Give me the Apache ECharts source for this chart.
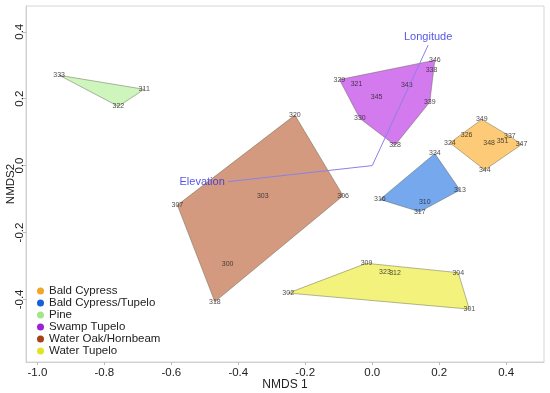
<!DOCTYPE html>
<html><head><meta charset="utf-8">
<script src="https://cdn.jsdelivr.net/npm/echarts@6/dist/echarts.min.js"></script>
<style>html,body{margin:0;padding:0;background:#fff}#c{width:550px;height:393px}</style>
</head><body><div id="c"></div>
<script>
// ---- data ----
const groupNames = ['Bald Cypress','Bald Cypress/Tupelo','Pine','Swamp Tupelo','Water Oak/Hornbeam','Water Tupelo'];
const dotColors  = ['#f2a626','#1560d8','#a3e68a','#9a22d0','#a34318','#e3e326'];
const fillColors = ['#fdca78','#76a8ee','#cdf5bc','#d37aef','#d49a80','#f2f27c'];

const bcNames = ['349','324','326','348','351','337','347','344'];
const bcX = [0.327,0.232,0.282,0.349,0.389,0.411,0.446,0.336];
const bcY = [0.138,0.068,0.091,0.068,0.074,0.088,0.063,-0.013];
const bcHull = ['349','337','347','344','324'];

const bctNames = ['334','313','317','316','310'];
const bctX = [0.187,0.262,0.142,0.023,0.157];
const bctY = [0.036,-0.073,-0.138,-0.101,-0.110];
const bctHull = ['334','313','317','316'];

const pineNames = ['333','311','322'];
const pineX = [-0.935,-0.681,-0.758];
const pineY = [0.270,0.228,0.177];
const pineHull = ['333','311','322'];

const stNames = ['329','321','345','343','346','338','339','330','328'];
const stX = [-0.098,-0.047,0.013,0.103,0.187,0.177,0.172,-0.037,0.068];
const stY = [0.257,0.245,0.204,0.240,0.315,0.285,0.190,0.141,0.061];
const stHull = ['329','346','339','328','330'];

const wohNames = ['320','306','318','307','303','300'];
const wohX = [-0.231,-0.087,-0.470,-0.582,-0.327,-0.432];
const wohY = [0.151,-0.090,-0.407,-0.118,-0.090,-0.294];
const wohHull = ['320','306','318','307'];

const wtNames = ['302','309','304','301','323','312'];
const wtX = [-0.251,-0.017,0.257,0.290,0.038,0.068];
const wtY = [-0.381,-0.292,-0.320,-0.429,-0.319,-0.322];
const wtHull = ['302','309','304','301'];

const vecNames = ['Elevation','Longitude'];
const vecX = [-0.430,0.167];
const vecY = [-0.048,0.360];

const xTicks = [-1.0,-0.8,-0.6,-0.4,-0.2,0.0,0.2,0.4];
const yTicks = [-0.4,-0.2,0.0,0.2,0.4];

// ---- build ----
const groups = [
  {names:bcNames,x:bcX,y:bcY,hull:bcHull},
  {names:bctNames,x:bctX,y:bctY,hull:bctHull},
  {names:pineNames,x:pineX,y:pineY,hull:pineHull},
  {names:stNames,x:stX,y:stY,hull:stHull},
  {names:wohNames,x:wohX,y:wohY,hull:wohHull},
  {names:wtNames,x:wtX,y:wtY,hull:wtHull}
];
const FONT = '"Liberation Sans", Arial, sans-serif';
const series = [];
groups.forEach((g,gi)=>{
  const hullData = g.hull.map(n=>{const i=g.names.indexOf(n);return [g.x[i],g.y[i]];});
  series.push({
    type:'custom', name:groupNames[gi], coordinateSystem:'cartesian2d', silent:true, z:1,
    itemStyle:{color:dotColors[gi]},
    data:hullData, encode:{x:0,y:1},
    renderItem:(params,api)=>{
      if(params.dataIndex!==0) return null;
      const pts = hullData.map(p=>api.coord(p));
      return {type:'polygon', shape:{points:pts},
        style:{fill:fillColors[gi], stroke:'rgba(90,90,70,0.55)', lineWidth:0.8}};
    }
  });
});
groups.forEach((g,gi)=>{
  series.push({
    type:'scatter', silent:true, z:3, symbolSize:1,
    itemStyle:{color:'transparent'},
    data:g.names.map((n,i)=>({value:[g.x[i],g.y[i]], name:n})),
    label:{show:true, position:'inside', formatter:'{b}', fontSize:7, color:'#222', fontFamily:FONT}
  });
});
vecNames.forEach((n,i)=>{
  series.push({
    type:'line', silent:true, z:4, symbol:'none',
    lineStyle:{color:'#8c80e6', width:1},
    data:[[0,0],[vecX[i],vecY[i]]]
  });
});
series.push({
  type:'scatter', silent:true, z:5, symbolSize:1, itemStyle:{color:'transparent'},
  data:vecNames.map((n,i)=>({value:[vecX[i],vecY[i]], name:n,
    label:{position: i===0 ? 'left' : 'top', distance: i===0 ? 3 : 2}})),
  label:{show:true, formatter:'{b}', fontSize:11, color:'#2a2ae0', fontFamily:FONT}
});

const chart = echarts.init(document.getElementById('c'));
chart.setOption({
  animation:false,
  backgroundColor:'#fff',
  textStyle:{fontFamily:FONT},
  grid:{left:26,right:6,top:6,bottom:31,show:true,borderColor:'#d6d6d6',borderWidth:1,containLabel:false, outerBoundsMode:'none'},
  legend:{
    show:true, orient:'vertical', left:32, top:280, icon:'circle',
    itemWidth:7, itemHeight:7, itemGap:0, selectedMode:false,
    data:groupNames,
    textStyle:{fontSize:11.5, lineHeight:11.7, color:'#222', fontFamily:FONT}
  },
  xAxis:{type:'value', min:-1.034, max:0.513,
    name:'NMDS 1', nameLocation:'middle', nameGap:17, nameMoveOverlap:false,
    nameTextStyle:{fontSize:12, color:'#222', fontFamily:FONT},
    axisLine:{show:true, onZero:false, lineStyle:{color:'#cfcfcf'}},
    axisTick:{show:true, length:3, customValues:xTicks, lineStyle:{color:'#bbb'}},
    splitLine:{show:false},
    axisLabel:{customValues:xTicks, fontSize:11.5, color:'#222', margin:5,
      formatter:v=>v.toFixed(1)}
  },
  yAxis:{type:'value', min:-0.587, max:0.477,
    name:'NMDS2', nameLocation:'middle', nameGap:9, nameMoveOverlap:false,
    nameTextStyle:{fontSize:11.5, color:'#222', fontFamily:FONT},
    axisLine:{show:true, onZero:false, lineStyle:{color:'#cfcfcf'}},
    axisTick:{show:true, length:3, customValues:yTicks, lineStyle:{color:'#bbb'}},
    splitLine:{show:false},
    axisLabel:{customValues:yTicks, fontSize:11.5, color:'#222', margin:0, rotate:90,
      formatter:v=>v.toFixed(1)}
  },
  series:series
});
</script></body></html>
